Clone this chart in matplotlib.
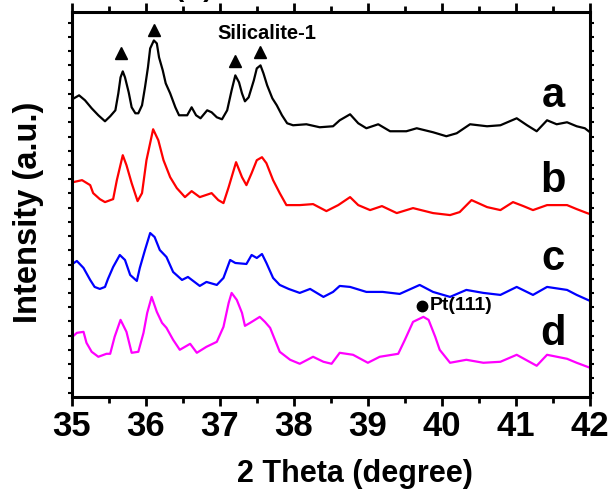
import numpy as np
import matplotlib
matplotlib.use("Agg")
import matplotlib.pyplot as plt
from matplotlib import font_manager
from matplotlib.ticker import MultipleLocator, FixedLocator


def pick_family(*names):
    for n in names:
        try:
            font_manager.findfont(font_manager.FontProperties(family=n), fallback_to_default=False)
            return n
        except Exception:
            continue
    return "DejaVu Sans"


BASE = pick_family("Liberation Sans", "Arial", "DejaVu Sans")
NARROW = pick_family("Liberation Sans Narrow", "Arial Narrow", BASE)
plt.rcParams["font.family"] = [BASE, "DejaVu Sans"]
plt.rcParams["font.weight"] = "bold"

# ---- XRD patterns (2 theta in degrees, intensity in arbitrary units) ----
x_a = [35.03, 35.10, 35.18, 35.27, 35.36, 35.45, 35.52, 35.59, 35.63, 35.66, 35.69, 35.72,
       35.77, 35.81, 35.86, 35.90, 35.95, 35.99, 36.03, 36.06, 36.11, 36.15, 36.18, 36.23,
       36.27, 36.33, 36.40, 36.45, 36.56, 36.62, 36.68, 36.74, 36.83, 36.89, 36.96, 37.03,
       37.10, 37.16, 37.21, 37.26, 37.30, 37.34, 37.39, 37.46, 37.50, 37.55, 37.59, 37.64,
       37.71, 37.77, 37.84, 37.91, 37.99, 38.17, 38.35, 38.53, 38.62, 38.76, 38.87, 38.98,
       39.14, 39.30, 39.52, 39.66, 39.88, 40.06, 40.20, 40.38, 40.61, 40.79, 41.01, 41.15,
       41.28, 41.42, 41.55, 41.69, 41.82, 41.93, 42.00]
y_a = [119, 122, 117, 109, 102, 96, 101, 107, 124, 140, 146, 140,
       125, 110, 104, 104, 112, 130, 150, 169, 177, 174, 160, 147,
       134, 124, 110, 102, 102, 110, 102, 99, 107, 105, 100, 98,
       107, 127, 142, 135, 124, 116, 120, 137, 149, 152, 144, 132,
       119, 112, 102, 94, 92, 93, 90, 91, 97, 103, 94, 89,
       93, 86, 86, 89, 85, 81, 84, 93, 91, 92, 99, 92,
       86, 97, 93, 95, 91, 89, 85]

x_b = [35.02, 35.14, 35.25, 35.29, 35.38, 35.45, 35.56, 35.61, 35.69, 35.74, 35.81, 35.89,
       35.95, 36.01, 36.10, 36.17, 36.24, 36.33, 36.42, 36.53, 36.62, 36.73, 36.89, 36.98,
       37.05, 37.12, 37.22, 37.30, 37.36, 37.43, 37.50, 37.57, 37.63, 37.72, 37.81, 37.90,
       38.08, 38.26, 38.44, 38.60, 38.76, 38.87, 39.03, 39.19, 39.39, 39.61, 39.88, 40.11,
       40.24, 40.40, 40.61, 40.79, 40.96, 41.10, 41.23, 41.42, 41.69, 41.82, 41.96, 42.00]
y_b = [105, 107, 102, 94, 88, 85, 88, 107, 132, 122, 104, 86,
       94, 127, 158, 147, 127, 110, 99, 90, 96, 90, 94, 87,
       84, 100, 125, 110, 102, 114, 127, 130, 124, 107, 94, 82,
       82, 83, 76, 82, 90, 82, 77, 81, 74, 79, 74, 72,
       75, 87, 80, 77, 85, 81, 77, 82, 82, 78, 74, 73]

x_c = [35.01, 35.07, 35.16, 35.25, 35.31, 35.38, 35.45, 35.49, 35.56, 35.65, 35.72, 35.79,
       35.88, 35.92, 35.99, 36.06, 36.12, 36.19, 36.28, 36.37, 36.49, 36.57, 36.73, 36.82,
       36.96, 37.05, 37.14, 37.21, 37.36, 37.43, 37.50, 37.57, 37.63, 37.72, 37.81, 37.93,
       38.08, 38.22, 38.40, 38.53, 38.62, 38.76, 38.98, 39.20, 39.43, 39.70, 39.88, 40.11,
       40.33, 40.56, 40.79, 41.01, 41.23, 41.42, 41.69, 41.82, 42.00]
y_c = [93, 96, 89, 77, 70, 68, 70, 78, 90, 102, 97, 82,
       76, 89, 107, 124, 120, 107, 100, 85, 77, 80, 71, 75,
       72, 79, 97, 94, 93, 102, 99, 103, 94, 79, 72, 68,
       64, 68, 60, 65, 71, 70, 65, 65, 63, 72, 65, 60,
       67, 64, 62, 70, 62, 70, 67, 62, 56]

x_d = [35.01, 35.07, 35.16, 35.20, 35.27, 35.36, 35.47, 35.52, 35.58, 35.66, 35.74, 35.81,
       35.90, 35.97, 36.02, 36.08, 36.15, 36.22, 36.28, 36.37, 36.46, 36.60, 36.69, 36.82,
       36.96, 37.05, 37.12, 37.16, 37.23, 37.30, 37.34, 37.41, 37.54, 37.61, 37.68, 37.81,
       37.95, 38.08, 38.26, 38.40, 38.51, 38.62, 38.80, 39.00, 39.16, 39.41, 39.50, 39.61,
       39.75, 39.82, 39.91, 39.97, 40.11, 40.33, 40.56, 40.79, 41.01, 41.28, 41.42, 41.69,
       41.82, 42.00]
y_d = [60, 64, 65, 54, 45, 40, 43, 43, 60, 77, 65, 44,
       45, 64, 84, 100, 85, 74, 69, 57, 47, 53, 44, 50,
       55, 70, 94, 104, 97, 84, 71, 74, 80, 75, 69, 45,
       37, 33, 40, 35, 33, 44, 42, 34, 40, 43, 57, 75,
       80, 77, 60, 47, 34, 37, 34, 35, 42, 31, 42, 38,
       34, 29]

sample_labels = ["a", "b", "c", "d"]
colors = ["black", "red", "#0000ff", "#ff00ff"]
stack_offsets = [180, 110, 40, 0]

# Silicalite-1 reflections marked with triangles, Pt(111) with a dot
sil_x = [35.67, 36.11, 37.21, 37.54]
sil_y = [344, 367, 336, 345]
pt_x, pt_y = 39.73, 91

fig = plt.figure(figsize=(6.09, 4.90), dpi=100)
ax = fig.add_axes([0.1177, 0.1904, 0.8511, 0.7841])

series = [(x_a, y_a), (x_b, y_b), (x_c, y_c), (x_d, y_d)]
for (xs, ys), off, col in zip(series, stack_offsets, colors):
    ax.plot(xs, np.asarray(ys) + off, color=col, lw=1.6, solid_joinstyle="round")

label_y = [290, 205, 127, 52]
for lab, ly in zip(sample_labels, label_y):
    ax.text(41.5, ly, lab, fontsize=30, fontweight="bold", ha="center", va="baseline")

ax.plot(sil_x, sil_y, linestyle="none", marker="^", color="black", markersize=8)
ax.text(37.64, 364, "Silicalite-1", fontsize=14.5, fontweight="bold", ha="center",
        va="center", family=[NARROW, BASE])
ax.plot([pt_x], [pt_y], linestyle="none", marker="o", color="black", markersize=7.5)
ax.text(39.83, 91, "Pt(111)", fontsize=14, fontweight="bold", ha="left", va="center")

ax.set_xlim(35, 42)
ax.set_ylim(0, 385)
ax.xaxis.set_major_locator(MultipleLocator(1))
ax.xaxis.set_minor_locator(MultipleLocator(0.5))
ax.yaxis.set_major_locator(FixedLocator(np.arange(4.2, 385, 14.25)))
ax.set_yticklabels([])

ax.tick_params(axis="x", which="major", direction="out", length=6.5, width=2,
               labelsize=25, pad=3, top=True)
ax.tick_params(axis="x", which="minor", direction="out", length=4, width=2, top=True)
ax.tick_params(axis="y", which="major", direction="out", length=3, width=1.5,
               right=True, labelleft=False)
for lbl in ax.get_xticklabels():
    lbl.set_fontweight("bold")
for sp in ax.spines.values():
    sp.set_linewidth(2.2)

fig.text(0.583, 0.033, "2 Theta (degree)", fontsize=22, fontweight="bold",
         ha="center", va="center")
fig.text(0.046, 0.567, "Intensity (a.u.)", fontsize=23.5, fontweight="bold",
         ha="center", va="center", rotation=90)
fig.text(0.319, 1.009, "(A)", fontsize=20, fontweight="bold", ha="center", va="baseline")

fig.savefig("out.png", dpi=100)
